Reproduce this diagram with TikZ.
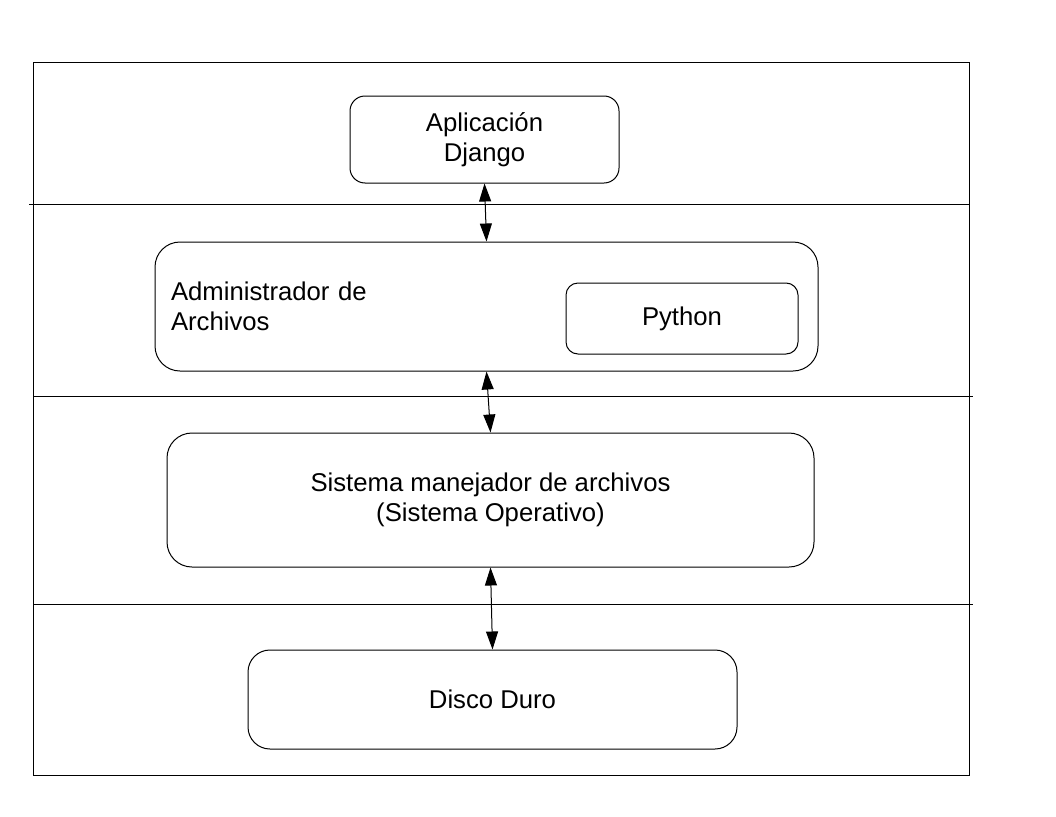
\documentclass[tikz,border=0pt]{standalone}
\usepackage{fontspec}
\setmainfont{Liberation Sans}
\usetikzlibrary{arrows.meta}
\begin{document}
\begin{tikzpicture}[x=1pt, y=-1pt, line width=1pt,
  caja/.style={draw, rectangle, align=center, inner sep=0pt, font=\fontsize{25.7}{30}\selectfont},
  flecha/.style={{Triangle[length=18pt,width=12pt]}-{Triangle[length=18pt,width=12pt]}}]
\useasboundingbox (0,0) rectangle (1056,816);

\draw (33,62) rectangle (969,775);
\draw (29,204) -- (969,204);
\draw (33,396) -- (973,396);
\draw (33,604) -- (973,604);

\node [caja, rounded corners=15pt, minimum width=269pt, minimum height=87pt] (django) at (484.5,139.5) {Aplicación\\Django};
\node [caja, rounded corners=25pt, minimum width=663pt, minimum height=129pt, text width=631pt, align=left] (admin) at (486.5,306.5) {Administrador de\\Archivos};
\node [caja, rounded corners=12pt, minimum width=232pt, minimum height=71pt] (python) at (682,318.5) {Python};
\node [caja, rounded corners=25pt, minimum width=647pt, minimum height=134pt] (sistema) at (490.5,500) {Sistema manejador de archivos\\(Sistema Operativo)};
\node [caja, rounded corners=22pt, minimum width=489pt, minimum height=99pt] (disco) at (492.5,699.5) {Disco Duro};

\draw [flecha] (django.south) -- (admin.north);
\draw [flecha] (admin.south) -- (sistema.north);
\draw [flecha] (sistema.south) -- (disco.north);
\end{tikzpicture}
\end{document}
